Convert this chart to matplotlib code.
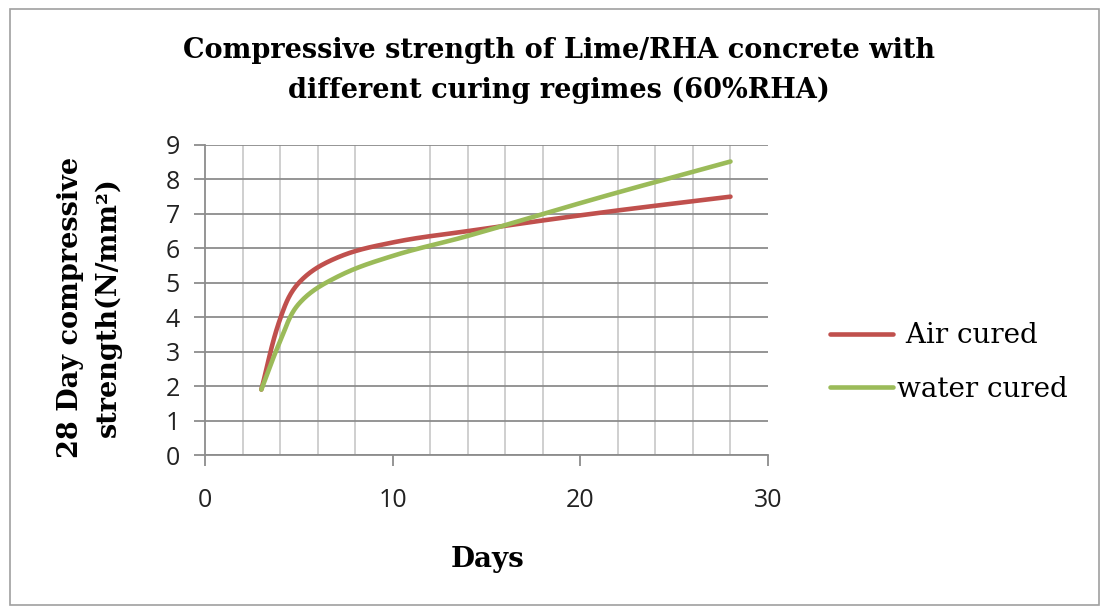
import numpy as np
import matplotlib.pyplot as plt
from matplotlib.patches import Rectangle

days = [3, 4, 5, 7, 10, 14, 21, 28]
air_cured = [1.9, 3.95, 5.0, 5.72, 6.17, 6.5, 7.03, 7.5]
water_cured = [1.9, 3.3, 4.39, 5.16, 5.78, 6.36, 7.47, 8.52]

title = "Compressive strength of Lime/RHA concrete with\ndifferent curing regimes (60%RHA)"
ylabel = "28 Day compressive\nstrength(N/mm\u00b2)"
xlabel = "Days"

RED = "#C0504D"
GREEN = "#9BBB59"


def smooth(ax, xs, ys, n=40):
    # smoothed line like Excel's: bezier pieces, tangents scaled by chord length (screen space)
    p = ax.transData.transform(np.column_stack([xs, ys]))
    d = np.hypot(*np.diff(p, axis=0).T)
    out = []
    for i in range(len(p) - 1):
        p1, p2 = p[i], p[i + 1]
        if i == 0:
            c1 = p1 + (p2 - p1) / 3
        else:
            c1 = p1 + (p2 - p[i - 1]) * d[i] / (d[i - 1] + d[i]) / 3 * 1.1
        if i + 2 >= len(p):
            c2 = p2 - (p2 - p1) / 3
        else:
            c2 = p2 - (p[i + 2] - p1) * d[i] / (d[i] + d[i + 1]) / 3 * 1.1
        t = np.linspace(0, 1, n)[:, None]
        out.append((1 - t) ** 3 * p1 + 3 * (1 - t) ** 2 * t * c1
                   + 3 * (1 - t) * t ** 2 * c2 + t ** 3 * p2)
    seg = ax.transData.inverted().transform(np.vstack(out))
    return seg[:, 0], seg[:, 1]


fig = plt.figure(figsize=(11.06, 6.11), dpi=100)
fig.patches.append(Rectangle((0.009, 0.01), 0.985, 0.975, transform=fig.transFigure,
                             fill=False, edgecolor="#a0a0a0", linewidth=1.2))

ax = fig.add_axes([0.1854, 0.2553, 0.5090, 0.5074])

ax.set_xlim(0, 30)
ax.set_ylim(0, 9)
ax.set_xticks([0, 10, 20, 30])
ax.set_xticks(np.arange(0, 31, 2), minor=True)
ax.set_yticks(range(0, 10))
ax.grid(which="minor", axis="x", color="#cccccc", linewidth=1.3)
ax.grid(which="major", axis="y", color="#8c8c8c", linewidth=1.3)
ax.set_axisbelow(True)
for s in ["top", "right"]:
    ax.spines[s].set_visible(False)
for s in ["left", "bottom"]:
    ax.spines[s].set_color("#8c8c8c")
    ax.spines[s].set_linewidth(1.3)
ax.tick_params(which="major", length=8, width=1.3, color="#8c8c8c", labelsize=18, labelcolor="#222222")
ax.tick_params(which="minor", length=0)
ax.tick_params(axis="x", pad=16)
ax.tick_params(axis="y", pad=10)
for lab in ax.get_xticklabels() + ax.get_yticklabels():
    lab.set_fontfamily("Open Sans")

x1, y1 = smooth(ax, days, air_cured)
x2, y2 = smooth(ax, days, water_cured)
ax.plot(x1, y1, color=RED, linewidth=3.3, solid_capstyle="round", label=" Air cured")
ax.plot(x2, y2, color=GREEN, linewidth=3.3, solid_capstyle="round", label="water cured")

fig.text(0.505, 0.884, title, ha="center", va="center", fontsize=19.5,
         fontweight="bold", family="DejaVu Serif", linespacing=1.6)
fig.text(0.081, 0.497, ylabel, ha="center", va="center", rotation=90, fontsize=19.5,
         fontweight="bold", family="DejaVu Serif", linespacing=1.5)
fig.text(0.441, 0.084, xlabel, ha="center", va="center", fontsize=20,
         fontweight="bold", family="DejaVu Serif")

ax.legend(loc="center left", bbox_to_anchor=(0.7505, 0.4067), bbox_transform=fig.transFigure,
          frameon=False, borderaxespad=0, borderpad=0,
          handlelength=2.27, handletextpad=0.15, labelspacing=0.95,
          prop={"family": "DejaVu Serif", "size": 20})

fig.savefig("out.png", dpi=100)
